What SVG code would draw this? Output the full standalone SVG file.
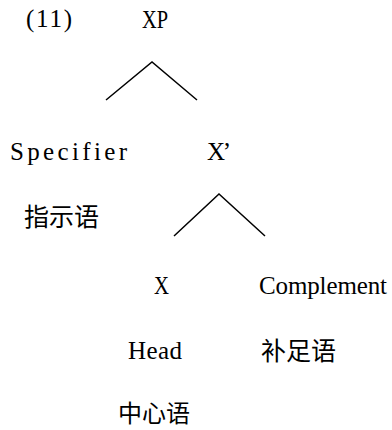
<svg xmlns="http://www.w3.org/2000/svg" width="392" height="430" viewBox="0 0 392 430">
<style>
.lat{font-family:"Liberation Serif","DejaVu Serif",serif;font-size:25px;fill:#000}
.cjk{font-family:"Noto Sans CJK SC","Noto Sans CJK JP",sans-serif;font-size:25px;fill:#000}
.edge{stroke:#000;stroke-width:1.5;fill:none}
</style>
<rect width="392" height="430" fill="#fff"/>
<g id="connectors">
<polyline class="edge" points="106,100 152,62 197,100"/>
<polyline class="edge" points="174,236 219,194 265,236"/>
</g>
<g id="label-11"><text class="lat" x="26" y="27" textLength="46" lengthAdjust="spacing">(11)</text></g>
<g id="node-XP"><text class="lat" x="142" y="28" textLength="26" lengthAdjust="spacingAndGlyphs">XP</text></g>
<g id="node-specifier">
<text class="lat" x="10" y="160" textLength="117" lengthAdjust="spacing">Specifier</text>
<text class="cjk" x="24" y="226">指示语</text>
</g>
<g id="node-Xbar"><text class="lat" x="207" y="160" textLength="24" lengthAdjust="spacing">X’</text></g>
<g id="node-X">
<text class="lat" x="154" y="294" textLength="15" lengthAdjust="spacingAndGlyphs">X</text>
<text class="lat" x="128" y="359" textLength="54" lengthAdjust="spacing">Head</text>
<text class="cjk" x="118" y="422" style="font-size:24px">中心语</text>
</g>
<g id="node-complement">
<text class="lat" x="259" y="294" textLength="128" lengthAdjust="spacing">Complement</text>
<text class="cjk" x="261" y="360">补足语</text>
</g>
</svg>
